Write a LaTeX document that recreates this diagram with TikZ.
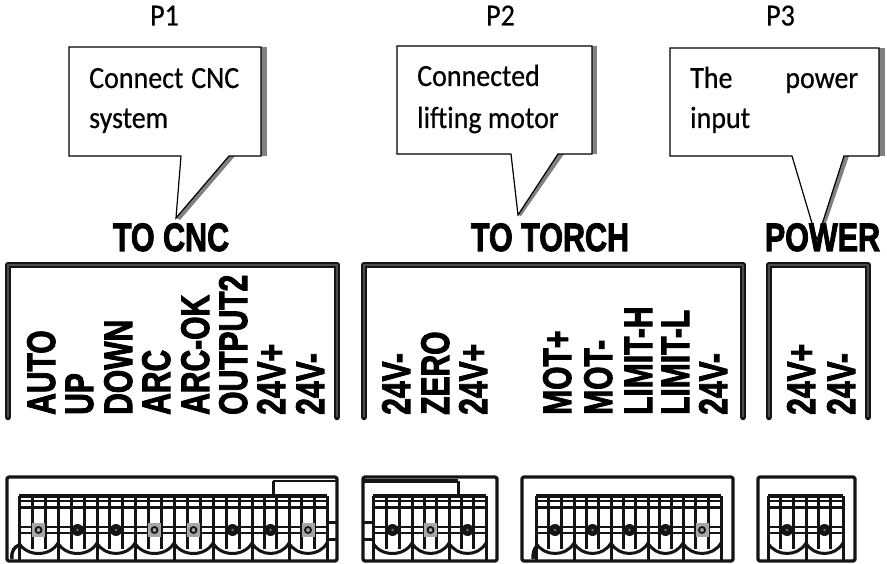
\documentclass[tikz,border=0pt]{standalone}
\usepackage{fontspec}
\usepackage{graphicx}
\newfontfamily\callf{Carlito}[FakeBold=0.5]
\newfontfamily\labf{Liberation Sans Bold}[FakeBold=2.6]
\definecolor{shade}{gray}{0.5}
\definecolor{ink}{gray}{0.08}
\tikzset{
  callout/.style={draw=black,line width=1.2pt,fill=white,line join=miter},
  calloutshadow/.style={fill=shade,draw=none},
  panelouter/.style={draw=ink,line width=6.5pt,line join=round,line cap=round},
  panelinner/.style={draw=black!70,line width=1.3pt,line join=round},
  blockline/.style={draw=ink,line width=3pt,line join=round},
  thinline/.style={draw=ink,line width=2.3pt},
  labelnode/.style={anchor=base west,inner sep=0pt,rotate=90},
  titlenode/.style={anchor=base,inner sep=0pt},
  textnode/.style={anchor=base west,inner sep=0pt}
}
\newcommand{\calltext}[4]{\node[textnode] (#1) at (#2,#3) {\scalebox{1}[1.1]{\fontsize{28}{30}\callf #4}};}
\newcommand{\lab}[3]{\node[labelnode] (#1) at (#2,415) {\scalebox{1}[1.33]{\fontsize{30}{32}\labf #3}};}
\newcommand{\paneltitle}[3]{\node[titlenode] (#1) at (#2,251) {\scalebox{1}[1.3]{\fontsize{30.5}{32}\labf #3}};}
% x0, x1, screw type (0 dark, 1 gray)
\newcommand{\cellblock}[3]{%
  \pgfmathsetmacro{\wd}{#2-#1}%
  \pgfmathsetmacro{\xa}{#1+\wd/3}%
  \pgfmathsetmacro{\xb}{#1+2*\wd/3}%
  \pgfmathsetmacro{\xc}{#1+\wd/2}%
  \draw[blockline] (#1,496) -- (#1,561);
  \draw[blockline] (#2,496) -- (#2,561);
  \draw[blockline] (\xa,496) -- (\xa,549);
  \draw[blockline] (\xb,496) -- (\xb,549);
  \draw[thinline] (#1,501) -- (#2,501) (#1,507.5) -- (#2,507.5);
  \draw[thinline] (#1,527) -- (#2,527) (#1,533) -- (#2,533);
  \draw[blockline] (#1,543) .. controls (#1+8,557) and (#2-8,557) .. (#2,543);
  \ifnum#3=1
    \fill[black!35] (\xc-6.5,523) rectangle (\xc+6.5,537);
    \draw[ink,line width=1.8pt] (\xc,530) circle (3);
  \else
    \fill[ink] (\xc,530) circle (6);
    \fill[black!55] (\xc,530) circle (1.4);
  \fi
}
\begin{document}
\begin{tikzpicture}[x=1pt,y=-1pt]
\useasboundingbox (0,0) rectangle (887,564);
\fill[white] (0,0) rectangle (887,564);

% callout 1
\fill[calloutshadow] (261,47) rectangle (267,156);
\fill[calloutshadow] (229,156) -- (235,156) -- (180,220) -- (176,218) -- cycle;
\draw[callout] (69,47) -- (261,47) -- (261,156) -- (229,156) -- (176,218) -- (181,156) -- (69,156) -- cycle;
% callout 2
\fill[calloutshadow] (592,46) rectangle (597,154);
\fill[calloutshadow] (558,154) -- (564,154) -- (521,216) -- (518,215) -- cycle;
\draw[callout] (397,46) -- (592,46) -- (592,154) -- (558,154) -- (518,215) -- (511,154) -- (397,154) -- cycle;
% callout 3
\fill[calloutshadow] (879,48) rectangle (885,156);
\fill[calloutshadow] (844,156) -- (849,156) -- (821,238) -- (817,240) -- cycle;
\draw[callout] (670,48) -- (879,48) -- (879,156) -- (844,156) -- (817,240) -- (792,156) -- (670,156) -- cycle;

\calltext{pone}{150}{25.5}{P1}
\calltext{ptwo}{486}{25.5}{P2}
\calltext{pthree}{766}{25.5}{P3}
\calltext{cone}{89}{88}{\makebox[150pt][s]{Connect CNC}}
\calltext{ctwo}{89}{128}{system}
\calltext{mone}{417}{86}{Connected}
\calltext{mtwo}{417}{128}{lifting motor}
\calltext{wone}{690}{88}{\makebox[168pt][s]{The power}}
\calltext{wtwo}{690}{128}{input}

\paneltitle{tcnc}{171}{TO CNC}
\paneltitle{ttorch}{550}{TO TORCH}
\paneltitle{tpower}{822.5}{POWER}

% upper panels
\foreach \a/\b in {8/337,364/743,769/868}{
  \draw[panelouter] (\a,417) -- (\a,265) -- (\b,265) -- (\b,417);
  \draw[panelinner] (\a,417) -- (\a,265) -- (\b,265) -- (\b,417);
}

\lab{la}{55}{AUTO}
\lab{lb}{93}{UP}
\lab{lc}{132}{DOWN}
\lab{ld}{170}{ARC}
\lab{le}{209}{ARC-OK}
\lab{lf}{247}{OUTPUT2}
\lab{lg}{285}{24V+}
\lab{lh}{324}{24V-}
\lab{ma}{410}{24V-}
\lab{mb}{449}{ZERO}
\lab{mc}{487}{24V+}
\lab{md}{571}{MOT+}
\lab{me}{612}{MOT-}
\lab{mf}{652}{LIMIT-H}
\lab{mg}{689}{LIMIT-L}
\lab{mh}{727}{24V-}
\lab{na}{815}{24V+}
\lab{nb}{855}{24V-}

% lower connector frames
\foreach \a/\b in {7/337,363/497,522/733,758/855}{
  \draw[blockline,line width=3.2pt,rounded corners=1.5pt] (\a,561) -- (\a,477) -- (\b,477) -- (\b,561) -- cycle;
}
% top bars of the cell rows
\foreach \a/\b in {19/327,373/486,536/721,768/843}{
  \draw[blockline,line width=3.4pt] (\a,496) -- (\b,496);
}
% keys and tabs
\draw[thinline] (273,481) -- (337,481);
\draw[blockline] (273,481) -- (273,496);
\draw[blockline] (327,522) -- (337,522) (327,539) -- (337,539);
\draw[blockline,line width=3.2pt] (363,481) -- (458,481);
\draw[blockline] (458,481) -- (458,496);
\draw[blockline] (363,522) -- (373,522) (363,539) -- (373,539);
\draw[blockline,line width=3.4pt] (12,559) .. controls (11,550) and (15,547) .. (19,545);
\draw[blockline,line width=3.4pt] (533,559) .. controls (533,552) and (534,549) .. (537,546);

% cells
\cellblock{19}{58}{1}
\cellblock{58}{97}{0}
\cellblock{97}{135}{0}
\cellblock{135}{174}{1}
\cellblock{174}{213}{1}
\cellblock{213}{252}{0}
\cellblock{252}{289}{0}
\cellblock{289}{327}{1}
\cellblock{373}{412}{0}
\cellblock{412}{449}{1}
\cellblock{449}{486}{0}
\cellblock{536}{574}{0}
\cellblock{574}{611}{0}
\cellblock{611}{648}{0}
\cellblock{648}{683}{0}
\cellblock{683}{721}{1}
\cellblock{768}{806}{0}
\cellblock{806}{843}{0}
\end{tikzpicture}
\end{document}
